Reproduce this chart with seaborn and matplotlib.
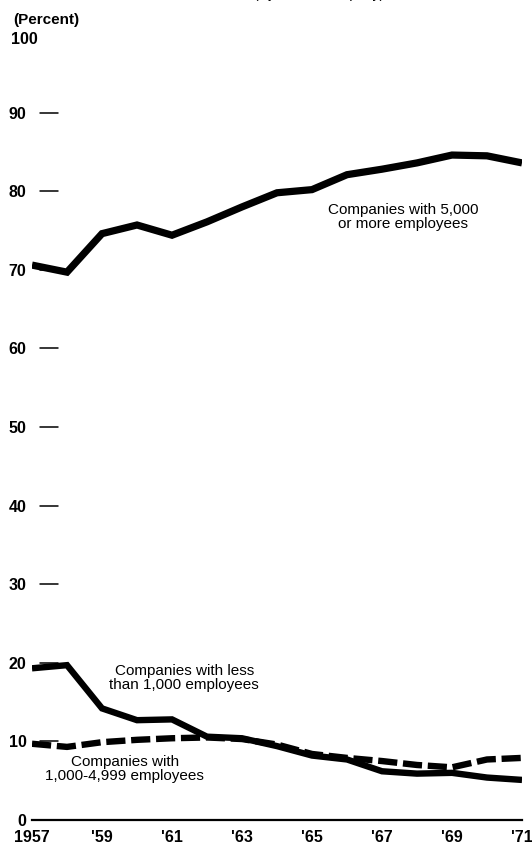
import matplotlib
matplotlib.use("Agg")
import matplotlib.pyplot as plt
import matplotlib.transforms as mtransforms
import pandas as pd
import seaborn as sns

years = list(range(1957, 1972))
large = [70.6, 69.7, 74.6, 75.7, 74.4, 76.1, 78.0, 79.8, 80.2, 82.1, 82.8, 83.6, 84.6, 84.5, 83.6]
small = [19.3, 19.7, 14.2, 12.7, 12.8, 10.6, 10.4, 9.4, 8.2, 7.7, 6.2, 5.9, 6.0, 5.4, 5.1]
medium = [9.7, 9.3, 9.9, 10.2, 10.4, 10.5, 10.3, 9.6, 8.4, 7.9, 7.5, 7.0, 6.7, 7.7, 7.9]
year_labels = ["1957", "'59", "'61", "'63", "'65", "'67", "'69", "'71"]
y_ticks = [0, 10, 20, 30, 40, 50, 60, 70, 80, 90]

df = pd.DataFrame({"year": years, "large": large, "small": small, "medium": medium})

sns.set_style("white")
plt.rcParams['font.family'] = ['Liberation Sans', 'DejaVu Sans']
plt.rcParams['text.color'] = 'black'
plt.rcParams['xtick.color'] = 'black'
plt.rcParams['ytick.color'] = 'black'

W, H = 532, 857
fig = plt.figure(figsize=(W / 100, H / 100), dpi=100)
ax = fig.add_axes([32 / W, 37 / H, 490 / W, 786 / H])

sns.lineplot(data=df, x="year", y="large", ax=ax, color="black", lw=5.2,
             solid_joinstyle="miter", solid_capstyle="butt")
sns.lineplot(data=df, x="year", y="small", ax=ax, color="black", lw=4.6,
             solid_joinstyle="miter", solid_capstyle="butt")
sns.lineplot(data=df, x="year", y="medium", ax=ax, color="black", lw=4.6,
             dashes=False, linestyle=(0, (3.0, 0.9)), dash_capstyle="butt")

ax.set_xlim(1957, 1971)
ax.set_ylim(0, 100)

for s in ["top", "right", "left"]:
    ax.spines[s].set_visible(False)
ax.spines["bottom"].set_linewidth(1.6)
ax.spines["bottom"].set_color("black")

# x axis: tick marks every year, labels on odd years
ax.set_xticks(years)
ax.set_xticklabels([year_labels[(y - 1957) // 2] if (y - 1957) % 2 == 0 else "" for y in years])
ax.tick_params(axis="x", direction="in", length=16, width=1.1, color="black",
               pad=7, labelsize=11.5)
ticks = ax.xaxis.get_major_ticks()
ticks[0].tick1line.set_visible(False)
ticks[-1].tick1line.set_visible(False)
for lab in ax.get_xticklabels():
    lab.set_fontweight("bold")

# y axis: labels with short dashes
ax.set_yticks(y_ticks)
ax.set_yticklabels([str(v) for v in y_ticks])
ax.tick_params(axis="y", length=0, pad=4, labelsize=11.5)
for lab in ax.get_yticklabels():
    lab.set_fontweight("bold")
trans = mtransforms.blended_transform_factory(ax.transAxes, ax.transData)
for v in y_ticks[1:]:
    ax.plot([0.016, 0.053], [v, v], transform=trans, color="black", lw=1.1, zorder=1)

ax.set_xlabel("")
ax.set_ylabel("")

fig.text(13 / W, 1 - 20 / H, "(Percent)", fontsize=11, fontweight="bold", va="center", ha="left")
fig.text(11 / W, 1 - 40 / H, "100", fontsize=11.5, fontweight="bold", va="center", ha="left")
fig.text(0.6, 1 + 2 / H, "(By size of company)", fontsize=10, va="baseline", ha="center")

ax.text(1967.6, 76.7, "Companies with 5,000\nor more employees", fontsize=11,
        ha="center", va="center", linespacing=1.0)
ax.text(1961.35, 18.1, "Companies with less\nthan 1,000 employees", fontsize=11,
        ha="center", va="center", linespacing=1.0)
ax.text(1959.65, 6.5, "Companies with\n1,000-4,999 employees", fontsize=11,
        ha="center", va="center", linespacing=1.0)

fig.savefig("out.png", dpi=100, facecolor="white")
